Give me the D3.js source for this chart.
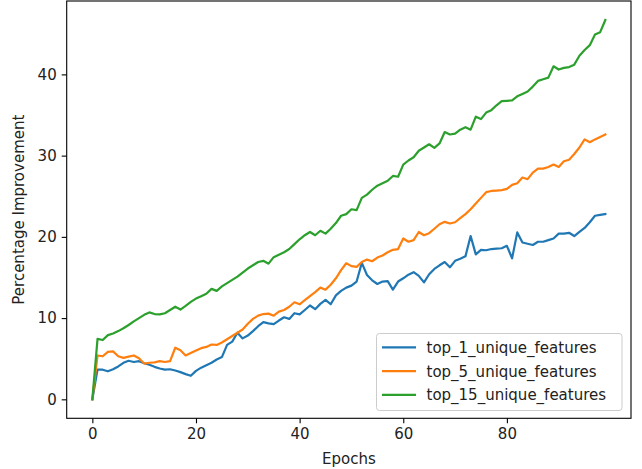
<!DOCTYPE html>
<html>
<head>
<meta charset="utf-8">
<script src="https://cdn.jsdelivr.net/npm/d3@7/dist/d3.min.js"></script>
<style>
  html, body { margin: 0; padding: 0; background: #fff; }
  svg { display: block; }
  text { font-family: "DejaVu Sans", sans-serif; }
</style>
</head>
<body>
<svg id="chart" width="642" height="469"></svg>
<script>
const epochs = d3.range(0, 100);
const seriesNames = ["top_1_unique_features", "top_5_unique_features", "top_15_unique_features"];
const seriesColors = ["#1f77b4", "#ff7f0e", "#2ca02c"];

const top1 = [0, 3.67, 3.65, 3.45, 3.7, 4.05, 4.5, 4.75, 4.6, 4.7,
  4.45, 4.25, 4.0, 3.8, 3.65, 3.7, 3.55, 3.35, 3.1, 2.9,
  3.5, 3.9, 4.2, 4.5, 4.9, 5.2, 6.7, 7.1, 8.2, 7.5,
  7.85, 8.4, 9.0, 9.5, 9.35, 9.25, 9.7, 10.1, 9.9, 10.6,
  10.45, 11.0, 11.55, 11.1, 11.75, 12.25, 11.7, 12.8, 13.35, 13.75,
  14.0, 14.5, 16.8, 15.3, 14.65, 14.2, 14.5, 14.55, 13.5, 14.5,
  14.9, 15.35, 15.65, 15.2, 14.4, 15.4, 16.05, 16.5, 16.9, 16.25,
  17.05, 17.3, 17.6, 20.1, 17.85, 18.4, 18.35, 18.5, 18.55, 18.6,
  18.9, 17.35, 20.55, 19.3, 19.15, 19.0, 19.4, 19.4, 19.6, 19.8,
  20.4, 20.4, 20.5, 20.1, 20.6, 21.1, 21.8, 22.6, 22.7, 22.8];

const top5 = [0, 5.4, 5.3, 5.85, 5.9, 5.3, 5.1, 5.25, 5.4, 5.05,
  4.4, 4.5, 4.55, 4.7, 4.6, 4.7, 6.35, 6.05, 5.4, 5.7,
  6.0, 6.3, 6.45, 6.75, 6.7, 7.0, 7.4, 7.8, 8.2, 8.6,
  9.3, 9.9, 10.3, 10.5, 10.55, 10.3, 10.8, 11.0, 11.4, 11.95,
  11.7, 12.2, 12.7, 13.2, 13.75, 13.5, 14.1, 14.9, 15.9, 16.75,
  16.4, 16.3, 16.9, 17.2, 17.0, 17.45, 17.7, 18.1, 18.4, 18.5,
  19.8, 19.4, 19.6, 20.6, 20.2, 20.45, 21.0, 21.55, 21.85, 21.65,
  21.8, 22.3, 22.8, 23.4, 24.1, 24.8, 25.5, 25.65, 25.7, 25.75,
  25.9, 26.4, 26.6, 27.3, 27.1, 27.9, 28.4, 28.4, 28.6, 28.9,
  28.6, 29.3, 29.5, 30.2, 31.0, 32.0, 31.65, 32.0, 32.3, 32.6];

const top15 = [0, 7.45, 7.3, 7.9, 8.1, 8.4, 8.75, 9.15, 9.6, 10.0,
  10.4, 10.7, 10.5, 10.45, 10.6, 11.0, 11.4, 11.05, 11.5, 12.0,
  12.4, 12.7, 13.0, 13.6, 13.35, 13.9, 14.3, 14.7, 15.1, 15.6,
  16.1, 16.5, 16.9, 17.05, 16.7, 17.5, 17.8, 18.1, 18.5, 19.1,
  19.7, 20.2, 20.6, 20.2, 20.75, 20.4, 21.0, 21.7, 22.6, 22.8,
  23.4, 23.3, 24.8, 25.2, 25.8, 26.3, 26.6, 26.9, 27.5, 27.4,
  28.9, 29.4, 29.8, 30.6, 31.0, 31.4, 30.95, 31.5, 32.9, 32.6,
  32.7, 33.2, 33.5, 33.2, 34.8, 34.5, 35.3, 35.6, 36.2, 36.7,
  36.75, 36.8, 37.3, 37.6, 37.9, 38.5, 39.2, 39.4, 39.6, 41.0,
  40.6, 40.8, 40.9, 41.2, 42.3, 43.0, 43.6, 44.9, 45.2, 46.7];

const xTicks = [0, 20, 40, 60, 80];
const yTicks = [0, 10, 20, 30, 40];
const xLabel = "Epochs";
const yLabel = "Percentage Improvement";

const allSeries = [top1, top5, top15];

(function () {
  const svg = d3.select("#chart");
  const mLeft = 66.7, mRight = 631, mTop = 1, mBottom = 418.3;
  const fontSize = 15;

  const xMin = d3.min(epochs), xMax = d3.max(epochs);
  const xPad = (xMax - xMin) * 0.05;
  const yMin = d3.min(allSeries.flat()), yMax = d3.max(allSeries.flat());
  const yPad = (yMax - yMin) * 0.05;

  const x = d3.scaleLinear().domain([xMin - xPad, xMax + xPad]).range([mLeft, mRight]);
  const y = d3.scaleLinear().domain([yMin - yPad, yMax + yPad]).range([mBottom, mTop]);

  const line = d3.line().x((d, i) => x(epochs[i])).y(d => y(d));
  allSeries.forEach((s, k) => {
    svg.append("path")
      .datum(s)
      .attr("fill", "none")
      .attr("stroke", seriesColors[k])
      .attr("stroke-width", 2.2)
      .attr("stroke-linejoin", "round")
      .attr("stroke-linecap", "square")
      .attr("d", line);
  });

  const xAxis = svg.append("g")
    .attr("transform", `translate(0,${mBottom})`)
    .call(d3.axisBottom(x).tickValues(xTicks).tickSize(5).tickPadding(5).tickFormat(d3.format("d")));
  const yAxis = svg.append("g")
    .attr("transform", `translate(${mLeft},0)`)
    .call(d3.axisLeft(y).tickValues(yTicks).tickSize(5).tickPadding(5).tickFormat(d3.format("d")));
  [xAxis, yAxis].forEach(g => {
    g.select(".domain").remove();
    g.selectAll(".tick line").attr("stroke", "#000").attr("stroke-width", 1.1);
    g.selectAll(".tick text").attr("fill", "#222").style("font-size", fontSize + "px")
      .style("font-family", "'DejaVu Sans', sans-serif");
  });

  svg.append("rect")
    .attr("x", mLeft).attr("y", mTop)
    .attr("width", mRight - mLeft).attr("height", mBottom - mTop)
    .attr("fill", "none").attr("stroke", "#000").attr("stroke-width", 1.1);

  svg.append("text")
    .attr("x", (mLeft + mRight) / 2).attr("y", 464)
    .attr("text-anchor", "middle")
    .attr("fill", "#222")
    .style("font-size", fontSize + "px")
    .text(xLabel);
  svg.append("text")
    .attr("transform", `translate(24,${(mTop + mBottom) / 2}) rotate(-90)`)
    .attr("text-anchor", "middle")
    .attr("fill", "#222")
    .style("font-size", fontSize + "px")
    .text(yLabel);

  const lg = svg.append("g");
  lg.append("rect")
    .attr("x", 376.5).attr("y", 333.5)
    .attr("width", 245.5).attr("height", 77)
    .attr("rx", 3).attr("ry", 3)
    .attr("fill", "#fff").attr("fill-opacity", 0.8)
    .attr("stroke", "#cccccc").attr("stroke-width", 1);
  seriesNames.forEach((name, k) => {
    const cy = 347.3 + k * 23.8;
    lg.append("line")
      .attr("x1", 382).attr("x2", 416)
      .attr("y1", cy).attr("y2", cy)
      .attr("stroke", seriesColors[k]).attr("stroke-width", 2.2);
    lg.append("text")
      .attr("x", 426.5).attr("y", cy)
      .attr("dy", "0.36em")
      .attr("fill", "#222")
      .style("font-size", fontSize + "px")
      .text(name);
  });
})();
</script>
</body>
</html>
